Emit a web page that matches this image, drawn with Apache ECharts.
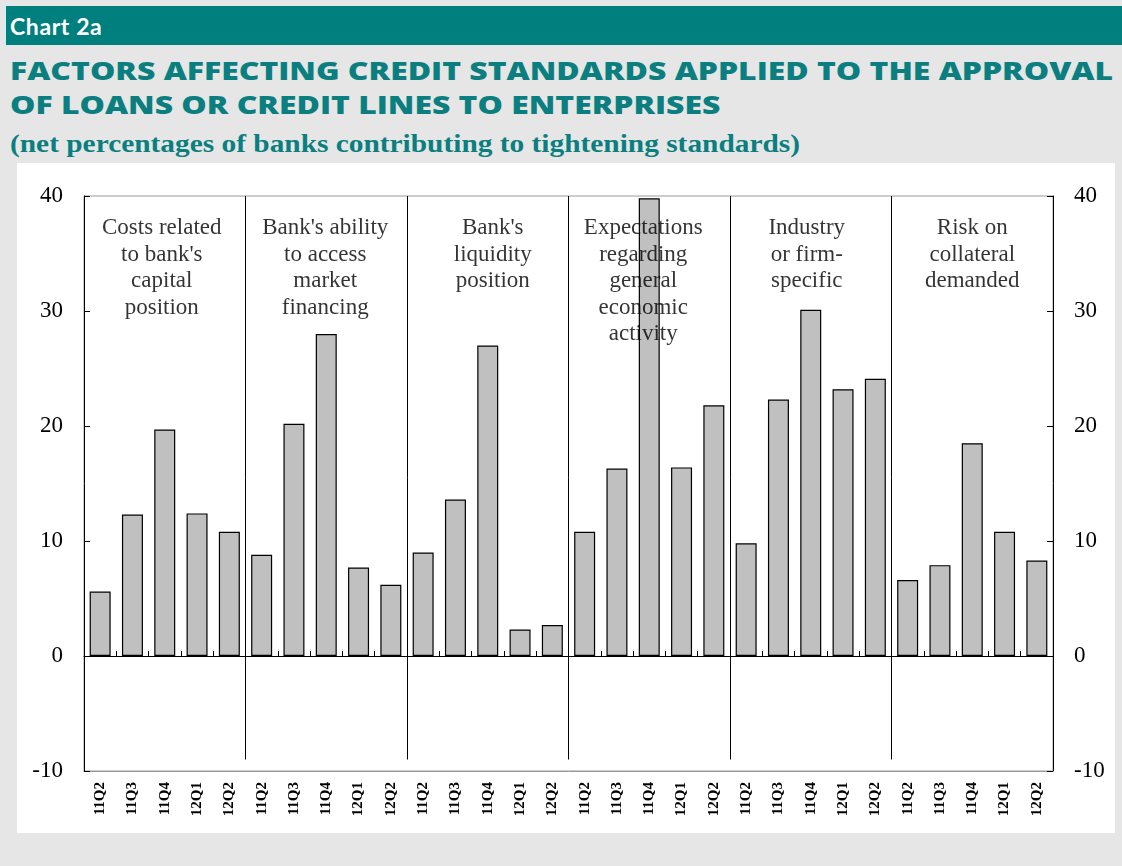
<!DOCTYPE html>
<html>
<head>
<meta charset="utf-8">
<script src="https://cdn.jsdelivr.net/npm/echarts@6/dist/echarts.min.js"></script>
<style>
  html, body { margin: 0; padding: 0; }
  body { width: 1122px; height: 866px; background: #e6e6e6; position: relative; overflow: hidden; }
  .band { position: absolute; left: 6px; top: 6px; width: 1116px; height: 39px; background: #007f7f;
          color: #fff; font: bold 23px Lato, sans-serif; line-height: 40px; box-sizing: border-box;
          padding-left: 4px; letter-spacing: 0.6px; }
  .title { position: absolute; left: 10px; color: #0b7f7f; font: 800 25px "Open Sans", sans-serif;
           line-height: 30px; white-space: nowrap; transform-origin: 0 0; }
  .sub { position: absolute; left: 10px; top: 129px; color: #0b7f7f; font: bold 26px "Liberation Serif", serif;
         line-height: 30px; white-space: nowrap; transform-origin: 0 0; }
  .panel { position: absolute; left: 17px; top: 163px; width: 1098px; height: 670px; background: #fff; }
  #chart { position: absolute; left: 0; top: 0; width: 1122px; height: 866px; }
</style>
</head>
<body>
<div class="band">Chart 2a</div>
<div class="title" id="t1" style="top:55px">FACTORS AFFECTING CREDIT STANDARDS APPLIED TO THE APPROVAL</div>
<div class="title" id="t2" style="top:89px">OF LOANS OR CREDIT LINES TO ENTERPRISES</div>
<div class="sub" id="st">(net percentages of banks contributing to tightening standards)</div>
<div class="panel"></div>
<div id="chart"></div>
<script>
const quarters = ['11Q2', '11Q3', '11Q4', '12Q1', '12Q2']
const groupNames = [
  'Costs related\nto bank\'s\ncapital\nposition',
  'Bank\'s ability\nto access\nmarket\nfinancing',
  'Bank\'s\nliquidity\nposition',
  'Expectations\nregarding\ngeneral\neconomic\nactivity',
  'Industry\nor firm-\nspecific',
  'Risk on\ncollateral\ndemanded'
]
const capitalCosts = [5.6, 12.3, 19.7, 12.4, 10.8]
const marketAccess = [8.8, 20.2, 28.0, 7.7, 6.2]
const liquidity = [9.0, 13.6, 27.0, 2.3, 2.7]
const economicOutlook = [10.8, 16.3, 39.8, 16.4, 21.8]
const industrySpecific = [9.8, 22.3, 30.1, 23.2, 24.1]
const collateralRisk = [6.6, 7.9, 18.5, 10.8, 8.3]
const yTicks = [-10, 0, 10, 20, 30, 40]

const groups = [capitalCosts, marketAccess, liquidity, economicOutlook, industrySpecific, collateralRisk]
const categories = groups.flatMap(() => quarters)
const values = groups.flat()
const n = quarters.length

// the original headings are set in a wide face: stretch ours to the same width
const fitWidth = (el, target) => {
  const w = el.getBoundingClientRect().width
  const k = target / w
  el.style.transform = 'scaleX(' + k + ')'
  return k
}
const titleScale = fitWidth(document.getElementById('t1'), 1103)
document.getElementById('t2').style.transform = 'scaleX(' + titleScale + ')'
fitWidth(document.getElementById('st'), 790)

// small pixel nudges so the group captions sit like the original
const captionNudge = [-3, -1, 5, -6, -4, 0]

const chart = echarts.init(document.getElementById('chart'))

const serif = '"Liberation Serif", "Times New Roman", serif'

const yAxisBase = {
  type: 'value',
  min: yTicks[0],
  max: yTicks[yTicks.length - 1],
  interval: 10,
  splitLine: { show: false },
  axisLine: { show: true, onZero: false, lineStyle: { color: '#000', width: 1 } },
  axisTick: { show: true, inside: true, length: 6, lineStyle: { color: '#000' } },
  axisLabel: { color: '#000', fontFamily: serif, fontSize: 23, margin: 21 }
}

const option = {
  animation: false,
  grid: {
    left: 84, right: 69, top: 196, bottom: 95,
    show: true, borderColor: '#999', borderWidth: 1, backgroundColor: 'transparent'
  },
  xAxis: [
    {
      type: 'category',
      data: categories,
      position: 'bottom',
      axisLine: { onZero: false, lineStyle: { color: '#999' } },
      axisTick: { show: false },
      axisLabel: {
        rotate: 90, interval: 0, margin: 11,
        color: '#000', fontFamily: serif, fontWeight: 'bold', fontSize: 15
      }
    },
    {
      type: 'category',
      data: categories,
      axisLine: { onZero: true, lineStyle: { color: '#000' } },
      axisTick: { show: true, length: 5, interval: 0, lineStyle: { color: '#000' } },
      axisLabel: { show: false }
    },
    {
      type: 'value',
      min: -0.5,
      max: categories.length - 0.5,
      show: false
    }
  ],
  yAxis: [
    Object.assign({}, yAxisBase, { position: 'left' }),
    Object.assign({}, yAxisBase, { position: 'right' })
  ],
  series: [
    {
      type: 'bar',
      xAxisIndex: 0,
      yAxisIndex: 0,
      data: values,
      barWidth: '65%',
      itemStyle: { color: '#c0c0c0', borderColor: '#000', borderWidth: 1.2 },
      z: 2
    },
    {
      type: 'scatter',
      xAxisIndex: 2,
      yAxisIndex: 0,
      symbolSize: 0,
      z: 5,
      silent: true,
      data: groupNames.map((name, g) => ({
        value: [g * n + (n - 1) / 2, yTicks[yTicks.length - 1]],
        name: name,
        label: { offset: [captionNudge[g], 0] }
      })),
      label: {
        show: true,
        position: 'bottom',
        distance: 19,
        formatter: p => p.name,
        color: '#000',
        fontFamily: serif,
        fontSize: 23,
        lineHeight: 26.5,
        align: 'center'
      },
      markLine: {
        silent: true,
        symbol: 'none',
        label: { show: false },
        lineStyle: { color: '#000', width: 1, type: 'solid' },
        data: groups.slice(1).map((_, g) => [
          { coord: [(g + 1) * n - 0.5, yTicks[yTicks.length - 1]] },
          { coord: [(g + 1) * n - 0.5, -9] }
        ])
      }
    }
  ]
}

chart.setOption(option)
</script>
</body>
</html>
